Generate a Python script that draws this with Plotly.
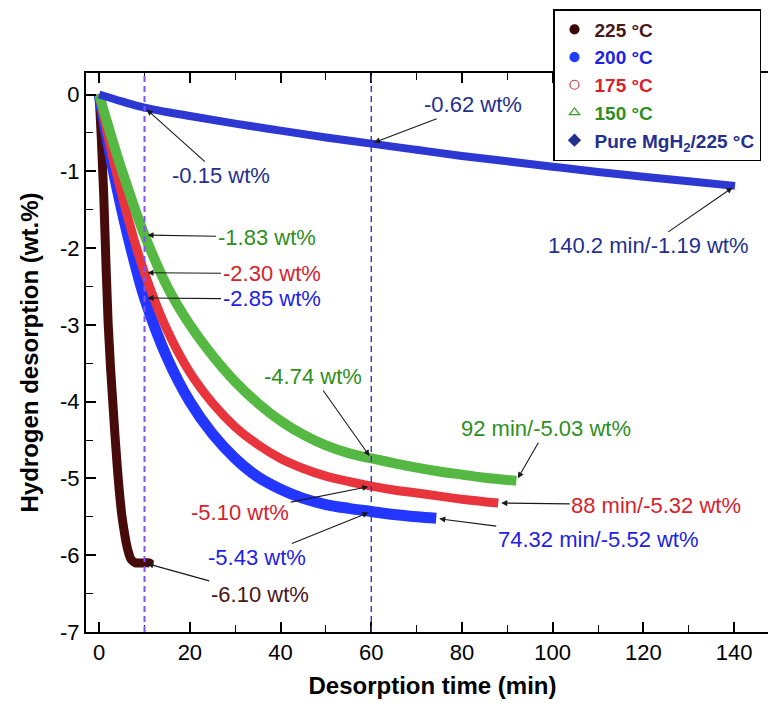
import plotly.graph_objects as go

# ---------------- data ----------------
t_225 = [0, 0.5, 1, 1.5, 2, 2.5, 3, 3.5, 4, 4.5, 5, 5.5, 6, 6.5, 7, 7.5, 8, 9, 10, 11, 11.5]
h_225 = [0, -0.6, -1.3, -2.2, -3.0, -3.55, -4.0, -4.45, -4.85, -5.2, -5.48, -5.68, -5.85, -5.97,
         -6.05, -6.08, -6.10, -6.10, -6.10, -6.10, -6.12]

t_200 = [0, 2, 4, 6, 8, 10, 15, 20, 25, 30, 35, 40, 45, 50, 55, 60, 65, 70, 74.32]
h_200 = [0, -0.65, -1.24, -1.76, -2.23, -2.65, -3.43, -4.00, -4.42, -4.74, -4.98, -5.14, -5.26,
         -5.34, -5.39, -5.43, -5.47, -5.50, -5.52]

t_175 = [0, 2, 4, 6, 8, 10, 15, 20, 25, 30, 35, 40, 45, 50, 55, 60, 65, 70, 75, 80, 88]
h_175 = [0, -0.56, -1.07, -1.53, -1.95, -2.32, -3.07, -3.62, -4.02, -4.33, -4.56, -4.74, -4.87,
         -4.97, -5.04, -5.10, -5.15, -5.19, -5.23, -5.27, -5.32]

t_150 = [0, 2, 4, 6, 8, 10, 15, 20, 25, 30, 35, 40, 45, 50, 55, 60, 65, 70, 75, 80, 85, 92]
h_150 = [0, -0.41, -0.80, -1.16, -1.51, -1.83, -2.50, -3.00, -3.40, -3.74, -4.02, -4.25, -4.43,
         -4.57, -4.67, -4.74, -4.80, -4.86, -4.91, -4.95, -4.99, -5.03]

t_mgh2 = [0, 5, 10, 20, 30, 40, 50, 60, 70, 80, 90, 100, 110, 120, 130, 140.2]
h_mgh2 = [0, -0.09, -0.17, -0.28, -0.38, -0.47, -0.56, -0.64, -0.72, -0.80, -0.87, -0.94, -1.01,
          -1.07, -1.13, -1.19]

series_names = ["225 °C", "200 °C", "175 °C", "150 °C", "Pure MgH<sub>2</sub>/225 °C"]
ref_times = [10, 60]

x_ticks = [0, 20, 40, 60, 80, 100, 120, 140]
y_ticks = [0, -1, -2, -3, -4, -5, -6, -7]

# ---------------- styles ----------------
FONT = "Liberation Sans, Arial, sans-serif"
band_colors = ["#480b0b", "#2236ff", "#e8343c", "#55b843", "#2d38d2"]
band_widths = [9, 11, 9, 10, 8]
text_colors = ["#4a1616", "#1e22e6", "#d8222c", "#2e8f1e", "#24308e"]
legend_symbols = ["circle", "circle", "circle-open", "triangle-up-open", "diamond"]
legend_marker_colors = ["#3a0606", "#1f3cff", "#c0404a", "#2e9a1e", "#22308e"]

series = [(t_225, h_225), (t_200, h_200), (t_175, h_175), (t_150, h_150), (t_mgh2, h_mgh2)]

fig = go.Figure()

# data bands
for i, (t, h) in enumerate(series):
    fig.add_trace(go.Scatter(
        x=t, y=h, mode="lines", showlegend=False, hoverinfo="x+y",
        line=dict(color=band_colors[i], width=band_widths[i], shape="spline", smoothing=1.0),
    ))

# legend entries (marker only)
for i, name in enumerate(series_names):
    fig.add_trace(go.Scatter(
        x=[None], y=[None], mode="markers",
        name=f"<span style='color:{text_colors[i]}'><b>{name}</b></span>",
        marker=dict(symbol=legend_symbols[i], size=9, color=legend_marker_colors[i],
                    line=dict(width=1.2, color=legend_marker_colors[i])),
    ))

# vertical reference lines
ref_colors = ["#7f55f2", "#3434b4"]
ref_widths = [2, 1.4]
for xv, c, w in zip(ref_times, ref_colors, ref_widths):
    fig.add_shape(type="line", xref="x", yref="paper", x0=xv, x1=xv, y0=0, y1=1,
                  line=dict(color=c, width=w, dash="6px,4px"), layer="above")


def val_at(ts, hs, tt):
    return hs[ts.index(tt)]


# annotations: (series index, time, text, ax, ay)
ann_specs = [
    (4, 10, "-0.15 wt%", 76, 68),
    (4, 60, "-0.62 wt%", 102, -39),
    (4, 140.2, "140.2 min/-1.19 wt%", -87, 60),
    (3, 10, "-1.83 wt%", 122, 2),
    (2, 10, "-2.30 wt%", 127, 1),
    (1, 10, "-2.85 wt%", 127, 1),
    (3, 60, "-4.74 wt%", -58, -82),
    (2, 60, "-5.10 wt%", -131, 26),
    (1, 60, "-5.43 wt%", -114, 46),
    (0, 10, "-6.10 wt%", 115, 32),
    (3, 92, "92 min/-5.03 wt%", 30, -52),
    (2, 88, "88 min/-5.32 wt%", 158, 2),
    (1, 74.32, "74.32 min/-5.52 wt%", 162, 21),
]
for si, tt, txt, ax, ay in ann_specs:
    t, h = series[si]
    fig.add_annotation(
        x=tt, y=val_at(t, h, tt), xref="x", yref="y", text=txt,
        ax=ax, ay=ay, showarrow=True, arrowhead=2, arrowsize=1.1, arrowwidth=1.1,
        arrowcolor="#1a1a1a", standoff=3,
        font=dict(family=FONT, size=22, color=text_colors[si]),
    )

axis_common = dict(
    showline=True, linecolor="black", linewidth=2, mirror="ticks",
    ticks="inside", ticklen=10, tickwidth=1.6, tickcolor="black",
    showgrid=False, zeroline=False, automargin=False,
    tickfont=dict(family=FONT, size=22, color="black"),
)

fig.update_xaxes(
    range=[-2.9, 149.9], tickvals=x_ticks, ticktext=[str(v) for v in x_ticks],
    minor=dict(dtick=10, tick0=0, ticks="inside", ticklen=7, tickwidth=1.4, tickcolor="black"),
    title=dict(text="<b>Desorption time (min)</b>", standoff=13,
               font=dict(family=FONT, size=24, color="black")),
    **axis_common,
)
fig.update_yaxes(
    range=[-7, 0.28], tickvals=y_ticks, ticktext=[str(v) for v in y_ticks],
    minor=dict(dtick=0.5, tick0=0, ticks="inside", ticklen=7, tickwidth=1.4, tickcolor="black"),
    title=dict(text="<b>Hydrogen desorption (wt.%)</b>", standoff=15,
               font=dict(family=FONT, size=24, color="black")),
    **axis_common,
)

fig.update_layout(
    width=776, height=703,
    margin=dict(l=78, r=5, t=65, b=79, autoexpand=False),
    paper_bgcolor="white", plot_bgcolor="white",
    font=dict(family=FONT, color="black"),
    legend=dict(
        xref="container", yref="container",
        x=545 / 776, y=1 - 1 / 703, xanchor="left", yanchor="top",
        bgcolor="white", bordercolor="black", borderwidth=1.5,
        font=dict(family=FONT, size=19),
        itemwidth=30, tracegroupgap=0,
    ),
    showlegend=True,
)

fig.write_html("out.html")
